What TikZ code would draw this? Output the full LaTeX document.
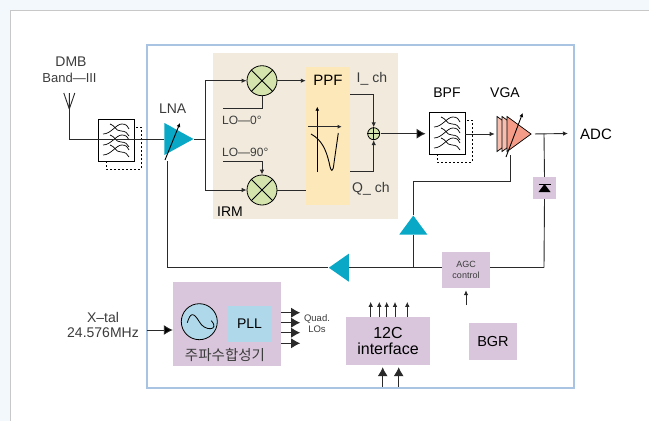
\documentclass[tikz,border=0pt]{standalone}
\usepackage{fontspec}
\setmainfont{Liberation Sans}
\newfontfamily\krfont{Noto Sans CJK KR}
\usepackage{tikz}
\usetikzlibrary{arrows.meta}
\usetikzlibrary{shapes.geometric}
\definecolor{pagetint}{HTML}{F3F8FC}
\definecolor{panelrule}{HTML}{C8C8C8}
\definecolor{chiprule}{HTML}{A9C3E2}
\definecolor{irmfill}{HTML}{F2EBDD}
\definecolor{ppffill}{HTML}{FCE8B8}
\definecolor{mixfill}{HTML}{D5E4AC}
\definecolor{blockfill}{HTML}{D9C6DC}
\definecolor{pllfill}{HTML}{AFD8EA}
\definecolor{ampblue}{HTML}{08A8C6}
\definecolor{vgafront}{HTML}{F49C88}
\definecolor{vgaback}{HTML}{F6BEAE}
\definecolor{wire}{HTML}{2A2A2A}
\definecolor{labelgrey}{HTML}{3C3C3C}
\tikzset{
	sig/.style={draw=wire, line width=.9pt},
	smalltip/.style={-{Latex[length=5pt,width=4.5pt]}},
	bigtip/.style={-{Latex[length=9pt,width=10pt]}},
	lab/.style={text=labelgrey, inner sep=0pt, font=\fontsize{14}{15}\selectfont, align=center},
	blockbox/.style={fill=blockfill, inner sep=0pt, align=center},
	filterbox/.style={draw=black, line width=.8pt, fill=none, minimum width=36pt, minimum height=42pt, inner sep=0pt},
	mixer/.style={circle, draw=black, line width=.8pt, fill=mixfill, minimum size=30pt, inner sep=0pt},
	amp/.style={isosceles triangle, isosceles triangle stretches, inner sep=0pt, minimum width=#1, minimum height=29pt, fill=ampblue, anchor=apex},
	pics/filterwaves/.style={code={
		\foreach \dy in {-10,1,11}{
			\draw[line width=.7pt] (-13,\dy+4) .. controls (-5,\dy+4) and (0,\dy-6) .. (6,\dy-6) .. controls (10,\dy-6) and (12,\dy-4) .. (13,\dy-1);
			\draw[line width=.7pt] (-6,\dy-6) .. controls (-1,\dy-5) and (-1,\dy+1) .. (5,\dy+1) .. controls (9,\dy+1) and (12,\dy+3) .. (13,\dy+6);
		}
		\draw[line width=.7pt, dashed, dash pattern=on 2pt off 2pt] (-10,21) -- (-10,29) -- (25,29) -- (25,-13) -- (18,-13);
	}},
}
\begin{document}
\begin{tikzpicture}[x=1pt,y=-1pt]
\useasboundingbox (0,0) rectangle (649,421);
\fill[pagetint] (0,0) rectangle (649,421);
\fill[white] (10,10) rectangle (649,421);
\draw[panelrule, line width=.8pt] (10,421) -- (10,10) -- (649,10);
\draw[chiprule, line width=1.6pt] (147,45) rectangle (574,388);

% blocks
\node (irm) [fill=irmfill, minimum width=185pt, minimum height=166pt, inner sep=0pt] at (305.5,136) {};
\node (ppf) [fill=ppffill, minimum width=44pt, minimum height=138pt, inner sep=0pt] at (328,136) {};
\node (fila) [filterbox] at (116,140) {};
\node (filb) [filterbox] at (447,133) {};
\pic at (fila) {filterwaves};
\pic at (filb) {filterwaves};
\node (mixa) [mixer] at (262,80.7) {};
\node (mixb) [mixer] at (262,190) {};
\node (adder) [circle, draw=black, line width=.8pt, fill=mixfill, minimum size=12pt, inner sep=0pt] at (373.7,133.7) {};
\node (lna) [amp=32pt] at (194,139) {};
\node (vgaa) [amp=35pt, minimum height=24pt, fill=vgaback, draw=black, line width=.7pt] at (522,134) {};
\node (vgab) [amp=35pt, minimum height=24pt, fill=vgaback, draw=black, line width=.7pt] at (527,134) {};
\node (vgac) [amp=35pt, minimum height=24pt, fill=vgafront, draw=black, line width=.7pt] at (532,134) {};
\node (tril) [amp=28pt, minimum height=20pt, shape border rotate=180] at (328.3,267.7) {};
\node (triu) [amp=28pt, minimum height=19pt, shape border rotate=90] at (413.3,215) {};
\node (det) [blockbox, minimum width=23pt, minimum height=22pt] at (544.5,188) {};
\node (agc) [blockbox, minimum width=48pt, minimum height=36pt, text=labelgrey, font=\fontsize{9}{10.5}\selectfont] at (466,270) {AGC\\control};
\node (synth) [blockbox, minimum width=108pt, minimum height=84pt] at (227,324) {};
\node (osc) [circle, draw=black, line width=.8pt, fill=pllfill, minimum size=36pt, inner sep=0pt] at (199.3,321.7) {};
\node (pll) [fill=pllfill, minimum width=44pt, minimum height=36pt, inner sep=0pt, font=\fontsize{14}{16}\selectfont] at (249.5,323.5) {PLL};
\node (iic) [blockbox, minimum width=84pt, minimum height=48pt, font=\fontsize{16}{15.5}\selectfont] at (388,341) {12C\\interface};
\node (bgr) [blockbox, minimum width=48pt, minimum height=37pt, font=\fontsize{14.5}{17}\selectfont] at (493,341.5) {BGR};

% labels
\node (dmb) [lab] at (71,62) {DMB};
\node (bandlab) [lab, font=\fontsize{13}{15}\selectfont] at (69.5,78) {Band—III};
\node (lnalab) [lab] at (172.7,109) {LNA};
\node (ppflab) [lab, text=black, font=\fontsize{15}{16}\selectfont] at (328,80) {PPF};
\node (ilab) [lab, anchor=west] at (356.5,79) {I\_ ch};
\node (qlab) [lab, anchor=west] at (352,189) {Q\_ ch};
\node (irmlab) [lab, text=black, anchor=west] at (217,212) {IRM};
\node (loa) [lab, font=\fontsize{12}{14}\selectfont, anchor=west] at (222,120) {LO—0°};
\node (lob) [lab, font=\fontsize{12}{14}\selectfont, anchor=west] at (222,152) {LO—90°};
\node (bpflab) [lab, text=black] at (447,93) {BPF};
\node (vgalab) [lab, text=black] at (505,93) {VGA};
\node (adc) [lab, text=black, font=\fontsize{15}{16}\selectfont] at (596,134) {ADC};
\node (xtal) [lab] at (103,325) {X–tal\\24.576MHz};
\node (kor) [lab, font=\krfont\fontsize{14.5}{16}\selectfont] at (225,355.5) {주파수합성기};
\node (quad) [lab, font=\fontsize{9.5}{11}\selectfont] at (317,323.5) {Quad.\\LOs};

% junctions
\coordinate (antj) at (69.3,139);
\coordinate (antb) at (69.3,109);
\coordinate (irmj) at (205.7,139);
\coordinate (loaj) at (223,108);
\coordinate (lobj) at (223,161.7);
\coordinate (fbj) at (413.3,267.7);
\coordinate (lnaj) at (167.7,267.7);
\coordinate (lnain) at (167.7,161);
\coordinate (vgaj) at (510,181);
\coordinate (vgain) at (510,155);
\coordinate (detj) at (544,133.5);
\coordinate (agcj) at (544,267.7);
\coordinate (adcend) at (568,133.5);
\coordinate (xtalj) at (146.7,330);
\coordinate (agcin) at (466,305);

\path[sig]
(antb) edge (antj)
(antj) edge (lna.lower side)
(lna.apex) edge (irmj)
(lnaj) edge (lnain)
(tril.apex) edge (lnaj)
(mixb.east) edge (mixb.east -| ppf.west)
(fbj) edge (triu.lower side)
(tril.lower side) edge (tril.lower side -| agc.west)
(agcj -| agc.east) edge (agcj)
(agcj) edge (det.south)
(det.north) edge (detj)
(mixa.east) edge [smalltip] (mixa.east -| ppf.west)
(filb.east |- vgaa.lower side) edge [smalltip] ([xshift=-2pt]vgaa.lower side)
(vgac.apex) edge [smalltip, shorten <=3pt] (adcend)
(agcin) edge [smalltip, shorten >=2pt] (agc.south)
(adder.east) edge [bigtip, shorten <=1pt, shorten >=3pt] (adder.east -| filb.west)
(xtalj) edge [bigtip] (synth.west |- xtalj)
;
\draw[sig] (antb) -- ++(-5.5,-16) (antb) -- ++(5.5,-16) (antb) -- ++(0,-16);
\draw[sig, smalltip] (irmj) |- (mixa);
\draw[sig, smalltip] (irmj) |- (mixb);
\draw[sig] (mixa.south) |- (loaj);
\draw[sig, smalltip] (lobj) -| (mixb.north);
\draw[sig, smalltip] (ppf.east |- 0,94) -| (adder.north);
\draw[sig, smalltip] (ppf.east |- 0,171) -| (adder.south);
\draw[sig] (triu.apex) |- (vgaj) -- (vgain);

% symbols inside the nodes
\draw[line width=.8pt] (mixa.45) -- (mixa.225) (mixa.135) -- (mixa.315);
\draw[line width=.8pt] (mixb.45) -- (mixb.225) (mixb.135) -- (mixb.315);
\draw[line width=.7pt] (adder.north) -- (adder.south) (adder.west) -- (adder.east);
\draw[line width=.9pt, -{Latex[length=4pt,width=4pt]}] (165,160) -- (180,123);
\draw[line width=.9pt, -{Latex[length=4pt,width=4pt]}] (506,157) -- (522.7,113);
\draw[line width=.9pt, -{Latex[length=4pt,width=4pt]}] (317.3,172) -- (317.3,106.7);
\draw[line width=.9pt, draw=wire, -{Latex[length=4pt,width=4pt]}] (308,126.7) -- (341.7,126.7);
\draw[line width=.9pt] (311,134) .. controls (322,140) and (326,150) .. (329,162) .. controls (331,173) and (333,173) .. (334,163) -- (338.3,133);
\draw[line width=.8pt] (det.center) ++(-6,-4) -- ++(12,0);
\fill[black] (det.center) ++(0,-4) -- ++(-6,8) -- ++(12,0) -- cycle;
\draw[line width=.8pt] (osc.center) ++(-12,1) .. controls ++(3,-10) and ++(-6,-10) .. ++(12,-1) .. controls ++(5,10) and ++(9,10) .. ++(12,-1);

% synthesizer and interface arrows
\foreach \y in {312.7,322.7,332.7,343.3}{
	\draw[sig, bigtip] (synth.east |- 0,\y) -- ++(19,0);
}
\foreach \x in {370.7,379.3,386.7,395,407.3}{
	\draw[sig, smalltip] (\x,0 |- iic.north) -- ++(0,-15);
}
\foreach \x in {382.7,398.7}{
	\draw[sig, bigtip, shorten >=2pt] (\x,386.7) -- (\x,0 |- iic.south);
}
\end{tikzpicture}
\end{document}
